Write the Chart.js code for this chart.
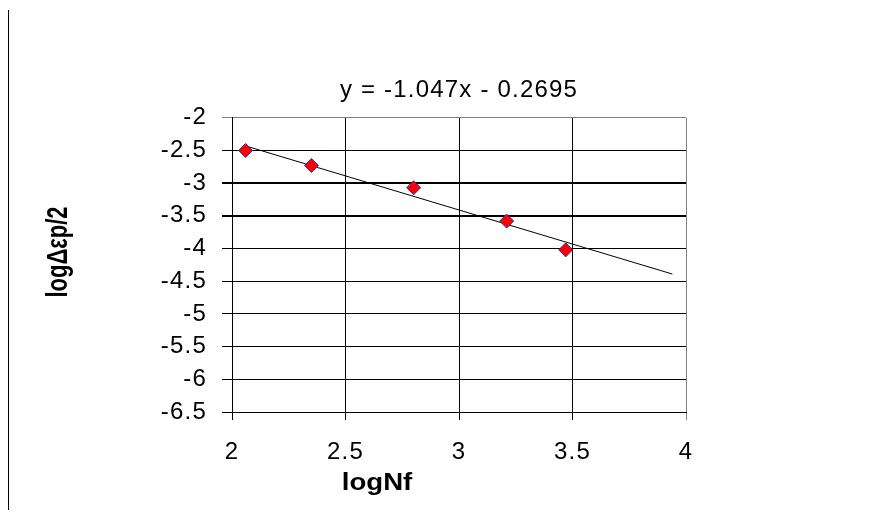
<!DOCTYPE html>
<html lang="en">
<head>
  <meta charset="UTF-8" />
  <title>logNf vs logΔεp/2</title>
  <script src="https://cdn.jsdelivr.net/npm/chart.js@4.4.0/dist/chart.umd.min.js"></script>
  <style>
    body {
      margin: 0;
      background: #fff;
    }
    .frame {
      position: absolute;
      left: 8px;
      top: 10px;
      height: 500px;
      border-left: 1px solid #000;
    }
    .wrap {
      position: relative;
      width: 872px;
      height: 521px;
    }
  </style>
</head>
<body>
  <div class="wrap">
    <div class="frame"></div>
    <canvas id="fitChart" width="872" height="521"></canvas>
  </div>

  <script>
    // measured points (logNf, logΔεp/2)
    const logNf = [2.06, 2.35, 2.80, 3.21, 3.47];
    const logStrain = [-2.50, -2.73, -3.07, -3.58, -4.02];

    // trendline end points
    const trendX = [2.06, 3.94];
    const trendY = [-2.43, -4.39];

    const xTicks = [2, 2.5, 3, 3.5, 4];
    const yTicks = [-2, -2.5, -3, -3.5, -4, -4.5, -5, -5.5, -6, -6.5];

    const fontFam = "'Liberation Sans', Arial, sans-serif";
    Chart.defaults.font.family = fontFam;
    Chart.defaults.color = '#000';

    const pts = logNf.map((x, i) => ({ x: x, y: logStrain[i] }));
    const trend = trendX.map((x, i) => ({ x: x, y: trendY[i] }));

    // the original text is rendered a little wide
    const wideText = {
      id: 'wideText',
      beforeUpdate(chart) { chart.ctx.letterSpacing = '1.2px'; },
      beforeDraw(chart) { chart.ctx.letterSpacing = '1.2px'; }
    };

    // axis titles sit off-centre in the original (and are stretched sideways)
    const axisTitles = {
      id: 'axisTitles',
      afterDraw(chart) {
        const ctx = chart.ctx;
        ctx.save();
        ctx.letterSpacing = '0px';
        ctx.fillStyle = '#000';
        ctx.textAlign = 'center';
        ctx.textBaseline = 'alphabetic';

        ctx.font = 'bold 24px ' + fontFam;
        ctx.translate(377, 490);
        ctx.scale(1.15, 1);
        ctx.fillText('logNf', 0, 0);
        ctx.setTransform(1, 0, 0, 1, 0, 0);

        ctx.font = 'bold 22px ' + fontFam;
        ctx.translate(67, 252);
        ctx.rotate(-Math.PI / 2);
        ctx.scale(1, 1.3);
        ctx.fillText('logΔεp/2', 0, 0);
        ctx.restore();
      }
    };

    new Chart(document.getElementById('fitChart'), {
      type: 'scatter',
      data: {
        datasets: [
          {
            label: 'trend',
            data: trend,
            showLine: true,
            borderColor: '#000',
            borderWidth: 1,
            pointRadius: 0,
            order: 2
          },
          {
            label: 'data',
            data: pts,
            pointStyle: 'rectRot',
            pointRadius: 7,
            backgroundColor: '#ff0000',
            borderColor: '#3030a0',
            borderWidth: 1,
            order: 1
          }
        ]
      },
      options: {
        responsive: false,
        animation: false,
        layout: { padding: { left: 45, right: 186, top: 0, bottom: 21 } },
        plugins: {
          legend: { display: false },
          tooltip: { enabled: false },
          title: {
            display: true,
            fullSize: false,
            text: 'y = -1.047x - 0.2695',
            color: '#000',
            font: { size: 24, weight: 'normal' },
            padding: { top: 76, bottom: 13 }
          }
        },
        scales: {
          x: {
            type: 'linear',
            min: 2,
            max: 4,
            afterBuildTicks: s => { s.ticks = xTicks.map(v => ({ value: v })); },
            afterFit: s => { s.height = 88; },
            ticks: { font: { size: 24 }, padding: 18, maxRotation: 0, callback: v => String(v) },
            grid: {
              color: c => (c.tick && c.tick.value === 4) ? '#808080' : '#000',
              lineWidth: 1,
              tickLength: 8
            },
            border: { color: '#000', width: 1 }
          },
          y: {
            type: 'linear',
            min: -6.5,
            max: -2,
            afterBuildTicks: s => { s.ticks = yTicks.map(v => ({ value: v })); },
            afterFit: s => { s.width = 187; },
            ticks: { font: { size: 24 }, padding: 15, callback: v => String(v) },
            grid: {
              color: c => (c.tick && c.tick.value === -2) ? '#808080' : '#000',
              lineWidth: c => (c.tick && (c.tick.value === -3 || c.tick.value === -3.5)) ? 2 : 1,
              tickLength: 10
            },
            border: { color: '#000', width: 1 }
          }
        }
      },
      plugins: [wideText, axisTitles]
    });
  </script>
</body>
</html>
